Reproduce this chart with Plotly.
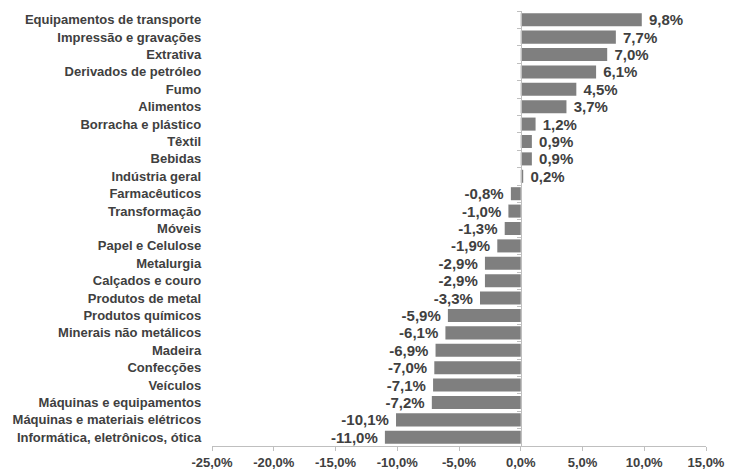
import plotly.graph_objects as go

# Sector growth rates (%), listed top to bottom
sectors = [
    "Equipamentos de transporte", "Impressão e gravações", "Extrativa",
    "Derivados de petróleo", "Fumo", "Alimentos", "Borracha e plástico",
    "Têxtil", "Bebidas", "Indústria geral", "Farmacêuticos", "Transformação",
    "Móveis", "Papel e Celulose", "Metalurgia", "Calçados e couro",
    "Produtos de metal", "Produtos químicos", "Minerais não metálicos",
    "Madeira", "Confecções", "Veículos", "Máquinas e equipamentos",
    "Máquinas e materiais elétricos", "Informática, eletrônicos, ótica",
]
growth = [9.8, 7.7, 7.0, 6.1, 4.5, 3.7, 1.2, 0.9, 0.9, 0.2, -0.8, -1.0, -1.3,
          -1.9, -2.9, -2.9, -3.3, -5.9, -6.1, -6.9, -7.0, -7.1, -7.2, -10.1, -11.0]

x_ticks = [-25, -20, -15, -10, -5, 0, 5, 10, 15]
x_tick_labels = ["-25,0%", "-20,0%", "-15,0%", "-10,0%", "-5,0%", "0,0%",
                 "5,0%", "10,0%", "15,0%"]

FONT = "Liberation Sans, Arial, sans-serif"
TEXT = "#404040"
AXIS = "#bfbfbf"

labels = [f"{v:.1f}".replace(".", ",") + "%" for v in growth]
labels = [(" " + t) if v >= 0 else (t + " ") for t, v in zip(labels, growth)]

fig = go.Figure(go.Bar(
    x=growth, y=sectors, orientation="h",
    marker=dict(color="#7f7f7f", line=dict(width=0)),
    width=0.75,
    text=labels, textposition="outside", cliponaxis=False,
    constraintext="none",
    textfont=dict(family=FONT, size=15, color=TEXT, weight="bold"),
))

x_min, x_max = x_ticks[0], x_ticks[-1]
fig.update_layout(
    width=729, height=469,
    margin=dict(l=212, r=23, t=11, b=23),
    paper_bgcolor="white", plot_bgcolor="white",
    showlegend=False,
    xaxis=dict(
        range=[x_min, x_max], tickvals=x_ticks, ticktext=x_tick_labels,
        showgrid=False, zeroline=False, automargin=False,
        showline=True, linecolor=AXIS, linewidth=1,
        ticks="outside", ticklen=4, tickcolor=AXIS,
        tickfont=dict(family=FONT, size=13, color=TEXT, weight="bold"),
    ),
    yaxis=dict(
        autorange="reversed", showgrid=False, zeroline=False, automargin=False,
        anchor="free", position=(0 - x_min) / (x_max - x_min),
        showline=True, linecolor=AXIS, linewidth=1,
        ticks="outside", ticklen=4, tickcolor=AXIS, tickson="boundaries",
        ticklabelstandoff=317,
        tickfont=dict(family=FONT, size=13, color=TEXT, weight="bold"),
    ),
)

fig.write_html("out.html")
